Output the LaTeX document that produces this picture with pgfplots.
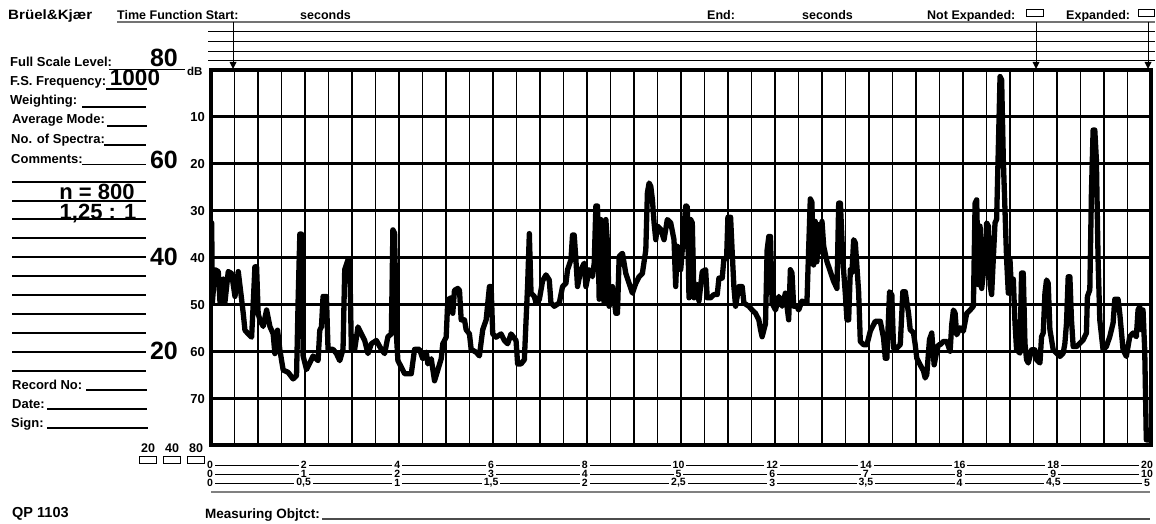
\documentclass[border=0pt]{standalone}
\usepackage{fontspec}
\setmainfont{Liberation Sans}
\usepackage{pgfplots}
\pgfplotsset{compat=1.18}
\newcommand{\fs}[1]{\fontsize{#1}{#1}\selectfont\bfseries}
\begin{document}
\begin{tikzpicture}
\useasboundingbox (0,0) rectangle (1156pt,-524pt);
\begin{axis}[at={(211pt,-445pt)}, anchor=south west, scale only axis,
  width=940pt, height=375pt, xmin=0, xmax=20, ymin=0, ymax=80, y dir=reverse,
  xtick={0,2,...,20}, minor x tick num=3, ytick={10,20,...,70},
  xticklabels={}, yticklabels={}, major tick length=0pt, minor tick length=0pt,
  xmajorgrids, xminorgrids, ymajorgrids,
  major grid style={black,line width=2.8pt},
  minor grid style={black,line width=1.4pt},
  axis line style={black,line width=3.5pt}]
\addplot[black,line width=5.3pt,line join=round,line cap=round,mark=none] coordinates {
(0.015,32.6)(0.028,49.7)(0.085,42.6)(0.155,43)(0.191,49.5)(0.261,44.6)(0.297,49.5)(0.367,43)(0.439,43.4)(0.510,48.3)(0.580,43)(0.652,49)(0.686,51.9)(0.722,55.5)(0.792,56.3)(0.864,57)(0.898,49.9)(0.934,42)(0.970,42)(1.004,52)(1.040,53.3)(1.110,54.7)(1.183,51.2)(1.253,54.7)(1.323,56.3)(1.359,60.5)(1.416,55.5)(1.465,59.7)(1.535,64)(1.641,64.5)(1.747,65.9)(1.820,65.2)(1.854,49)(1.890,35)(1.926,35)(1.960,61)(2.032,63.9)(2.102,62.5)(2.172,61)(2.278,62)(2.314,55.5)(2.350,54.8)(2.384,48.3)(2.456,48.3)(2.490,59.6)(2.597,59.6)(2.669,60.5)(2.739,62)(2.809,59.6)(2.845,42.6)(2.915,40.5)(2.951,40.5)(2.987,59.6)(3.057,59.6)(3.127,54.8)(3.200,56.3)(3.270,57.7)(3.340,60.5)(3.412,58.4)(3.518,57.7)(3.624,59.6)(3.694,60.5)(3.764,56.9)(3.837,56.3)(3.870,34.1)(3.906,34.8)(3.943,56.3)(3.977,62)(4.049,63.4)(4.119,64.8)(4.261,64.8)(4.331,59.6)(4.437,59.6)(4.507,61.6)(4.580,60.2)(4.614,62.7)(4.686,61.6)(4.756,66.3)(4.826,64)(4.898,61.6)(4.932,58.4)(5.004,57)(5.038,49)(5.110,48.6)(5.144,51.9)(5.180,47)(5.250,46.6)(5.287,47)(5.323,53.3)(5.393,53.3)(5.429,55.4)(5.499,56.3)(5.535,59.6)(5.641,60.2)(5.711,61)(5.781,55.4)(5.854,53.3)(5.924,46.2)(5.960,46.2)(5.994,56.3)(6.066,57)(6.172,56.3)(6.242,57.7)(6.312,58.4)(6.384,56.3)(6.490,57.7)(6.524,62.7)(6.597,62.7)(6.667,61.8)(6.737,45.7)(6.773,34.9)(6.809,47.6)(6.879,48.3)(6.915,49.7)(6.985,49)(7.055,45)(7.127,43.7)(7.197,44.8)(7.233,49.7)(7.304,50.4)(7.410,49.7)(7.480,46.2)(7.552,45.5)(7.586,42.6)(7.658,40.5)(7.692,35.2)(7.728,35.2)(7.764,40.5)(7.798,46.2)(7.870,42.6)(7.941,41.2)(7.977,46.2)(8.047,42.6)(8.117,44.1)(8.153,41.2)(8.189,29)(8.223,29)(8.259,48.9)(8.295,31.9)(8.329,33.3)(8.365,49.7)(8.401,31.9)(8.435,36.9)(8.471,50.4)(8.541,46.2)(8.614,51.9)(8.648,51.9)(8.684,39.8)(8.754,39.1)(8.826,43.4)(8.896,45.5)(8.966,47.6)(9.038,45.5)(9.108,44.1)(9.178,43.4)(9.251,38.4)(9.285,26.2)(9.321,24.1)(9.357,24.8)(9.391,27.6)(9.427,32.6)(9.463,36.2)(9.497,33.3)(9.569,34)(9.639,36.2)(9.709,31.9)(9.781,32.6)(9.851,36.2)(9.887,46.2)(9.921,37.6)(9.994,42.6)(10.100,29)(10.134,29.1)(10.170,48.6)(10.206,31.9)(10.240,32.6)(10.276,48.6)(10.346,45.8)(10.382,49.3)(10.452,43)(10.524,42.6)(10.558,48.6)(10.631,48.6)(10.701,47.9)(10.771,47.9)(10.807,44.4)(10.877,44.4)(10.913,40.2)(10.970,40.2)(10.998,31.4)(11.055,31.4)(11.089,38.8)(11.125,46.2)(11.161,50.4)(11.231,46.2)(11.302,46.2)(11.338,49.7)(11.444,50.4)(11.514,51.2)(11.586,51.9)(11.656,53.3)(11.692,55.4)(11.726,56.9)(11.798,54.1)(11.832,38.4)(11.868,35.5)(11.904,35.5)(11.938,49.7)(12.011,51.2)(12.081,48.3)(12.151,50.4)(12.221,47.6)(12.291,53.3)(12.327,42.6)(12.361,43.3)(12.397,50.4)(12.467,50.4)(12.503,51.2)(12.573,49.3)(12.679,49.7)(12.715,38.4)(12.751,27.5)(12.785,28.2)(12.821,41.6)(12.857,32.3)(12.891,40.9)(12.930,33)(12.966,38.8)(13.000,32.3)(13.036,37.6)(13.106,40.9)(13.178,43)(13.248,45.1)(13.318,46.6)(13.355,28.4)(13.391,28.4)(13.446,40.9)(13.497,47.9)(13.531,53.3)(13.567,53.3)(13.603,42.6)(13.637,43.3)(13.673,36.2)(13.709,36.9)(13.779,47.3)(13.815,57.9)(13.885,58.6)(13.955,58.6)(14.028,55.7)(14.134,53.6)(14.240,53.6)(14.310,57.2)(14.346,61.5)(14.380,61.5)(14.437,47.3)(14.486,48)(14.522,59.3)(14.592,59.3)(14.665,58.6)(14.720,47.3)(14.771,47.3)(14.841,51.9)(14.877,55.4)(14.947,56.1)(14.983,58.6)(15.017,61.5)(15.089,62.9)(15.159,64.2)(15.195,65.7)(15.229,65)(15.287,57.5)(15.335,56.1)(15.386,62.9)(15.442,60)(15.478,58.6)(15.514,58.6)(15.584,57.9)(15.654,57.9)(15.726,60)(15.760,54.3)(15.796,51.2)(15.832,51.9)(15.866,56.5)(15.938,55)(16.008,55.7)(16.079,51.9)(16.151,51.2)(16.221,50.4)(16.257,28.4)(16.291,27.7)(16.327,45.8)(16.363,33.3)(16.397,46.6)(16.469,40.2)(16.503,32.6)(16.539,33.3)(16.575,45.8)(16.609,47.9)(16.645,40.2)(16.681,32.6)(16.715,31.9)(16.788,1.4)(16.822,2.1)(16.858,19.2)(16.928,40.5)(16.964,47.6)(17.000,40.5)(17.034,47.6)(17.070,44.6)(17.106,54)(17.140,59.7)(17.212,60.4)(17.246,43.3)(17.282,43.3)(17.318,58.3)(17.352,61.8)(17.389,62.5)(17.459,59.7)(17.529,59.7)(17.565,61.8)(17.637,62.5)(17.671,56.9)(17.707,56.1)(17.743,47.6)(17.777,44.8)(17.813,45.5)(17.849,55.4)(17.919,59.7)(17.989,60.4)(18.062,61.1)(18.132,60.4)(18.168,58.3)(18.202,54)(18.238,44.1)(18.274,44.1)(18.308,53.3)(18.344,59)(18.414,59)(18.486,58.3)(18.556,57.6)(18.626,56.1)(18.647,48.3)(18.698,46.9)(18.732,26.3)(18.768,12.8)(18.804,12.8)(18.838,19.2)(18.874,40.5)(18.910,53.3)(18.980,59.7)(19.050,59)(19.122,56.9)(19.193,54)(19.229,48.9)(19.299,48.9)(19.335,51.9)(19.405,59.7)(19.475,61.1)(19.547,56.9)(19.618,56.1)(19.688,56.9)(19.724,51.2)(19.760,50.5)(19.794,55.4)(19.830,51.2)(19.866,59.7)(19.900,78.9)(19.972,78.9)(20.000,78.5)
};
\end{axis}
\begin{scope}[x=1pt,y=-1pt]
\tikzset{lab/.style={anchor=base west, inner sep=0pt, font=\fs{13}},
         hd/.style={anchor=base west, inner sep=0pt, font=\fs{12.5}},
         big/.style={anchor=base, inner sep=0pt, font=\fs{25}},
         num/.style={anchor=base, inner sep=0pt, font=\fs{13}},
         sc/.style={inner xsep=2pt, inner ysep=0pt, fill=white, font=\fs{10.5}}}
% header
\node[hd, font=\fs{13.5}, xscale=1.12] at (8,19.5) {Brüel\&Kjær};
\node[hd] at (117,19.5) {Time Function Start:};
\node[hd] at (300,19.5) {seconds};
\node[hd] at (707,19.5) {End:};
\node[hd] at (802,19.5) {seconds};
\node[hd] at (927,19.5) {Not Expanded:};
\node[hd] at (1066,19.5) {Expanded:};
\draw[line width=0.8pt] (1026,9) rectangle (1043,16);
\draw[line width=0.8pt] (1138,9) rectangle (1154.5,16);
\draw[black!55, line width=1.5pt] (117,22) -- (1155,22);
\foreach \yy in {32,42,52,61} \draw[line width=1pt] (208,\yy) -- (1155,\yy);
\foreach \xx in {233,1036,1148} {
  \draw[line width=0.9pt] (\xx,22) -- (\xx,63);
  \fill (\xx-3.5,62) -- (\xx+3.5,62) -- (\xx,69) -- cycle;}
% left panel
\node[lab] at (10,67) {Full Scale Level:};
\draw[line width=1.2pt] (109,69.5) -- (185,69.5);
\node[big] at (164,67) {80};
\node[anchor=base west, inner sep=0pt, font=\fs{11.5}] at (187,76) {dB};
\node[lab] at (10,86) {F.S. Frequency:};
\draw[line width=1.2pt] (106,89) -- (147,89);
\node[anchor=base, inner sep=0pt, font=\fs{22.5}] at (135,86) {1000};
\node[lab] at (10,105) {Weighting:};
\draw[line width=1.2pt] (82,107) -- (146,107);
\node[lab] at (12,124) {Average Mode:};
\draw[line width=1.2pt] (107,126) -- (147,126);
\node[lab] at (11,143.5) {No. of Spectra:};
\draw[line width=1.2pt] (104,145) -- (146,145);
\node[lab] at (11,163) {Comments:};
\draw[line width=1.2pt] (82,164.5) -- (146,164.5);
\node[big] at (164,168) {60};
\foreach \yy in {182,201,219,238,257,276,295,314,333,352,371}
  \draw[line width=1.2pt] (12,\yy) -- (146,\yy);
\node[big] at (164,265) {40};
\node[big] at (164,359) {20};
\node[anchor=base, inner sep=0pt, font=\fs{22}] at (97,199) {n = 800};
\node[anchor=base, inner sep=0pt, font=\fs{22}] at (98,219) {1,25 : 1};
\node[lab] at (12,389) {Record No:};
\draw[line width=1.2pt] (86,390) -- (147,390);
\node[lab] at (12,408) {Date:};
\draw[line width=1.2pt] (47,409) -- (147,409);
\node[lab] at (11,427) {Sign:};
\draw[line width=1.2pt] (47,428) -- (148,428);
\node[anchor=base, inner sep=0pt, font=\fs{12.5}] at (148,452) {20};
\node[anchor=base, inner sep=0pt, font=\fs{12.5}] at (172,452) {40};
\node[anchor=base, inner sep=0pt, font=\fs{12.5}] at (196,452) {80};
\draw[line width=0.8pt] (139,456) rectangle (156,463);
\draw[line width=0.8pt] (163,456) rectangle (180,463);
\draw[line width=0.8pt] (187,456) rectangle (204,463);
\node[lab, font=\fs{14.5}] at (12,517) {QP 1103};
% y tick labels
\foreach \k in {1,...,7} {
  \pgfmathsetmacro{\yy}{70+46.875*\k+5}
  \pgfmathtruncatemacro{\lbl}{10*\k}
  \node[num] at (197.5,\yy) {\lbl};}
% bottom scale
\foreach \yy in {465,474,483} \draw[line width=0.8pt] (212,\yy) -- (1148,\yy);
\foreach \k/\a/\b/\c in {0/0/0/0,1/2/1/{0,5},2/4/2/1,3/6/3/{1,5},4/8/4/2,5/10/5/{2,5},6/12/6/3,7/14/7/{3,5},8/16/8/4,9/18/9/{4,5},10/20/10/5} {
  \pgfmathsetmacro{\xx}{210+93.7*\k}
  \node[sc] at (\xx,465) {\a};
  \node[sc] at (\xx,474) {\b};
  \node[sc] at (\xx,483) {\c};}
\draw[black!50, line width=2pt] (211,492) -- (1150,492);
\node[lab, font=\fs{13.5}] at (205,518) {Measuring Objtct:};
\draw[black!70, line width=1.2pt] (322,519) -- (1150,519);
\end{scope}
\end{tikzpicture}
\end{document}
